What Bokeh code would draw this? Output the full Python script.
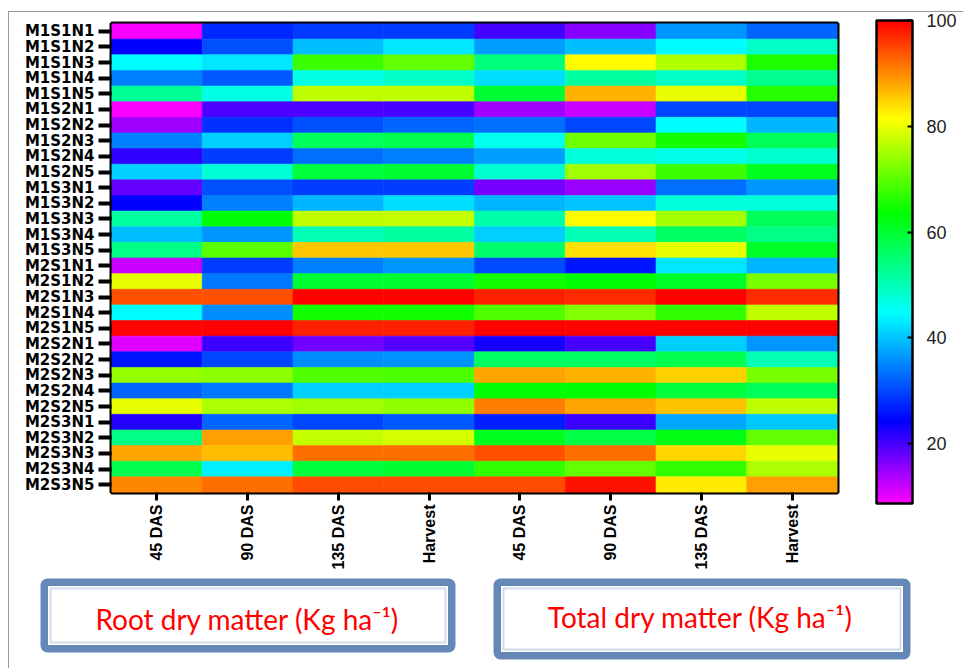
import colorsys
import numpy as np
from bokeh.plotting import figure
from bokeh.models import (ColumnDataSource, LinearColorMapper, ColorBar, FixedTicker,
                          FactorRange, Range1d, BoxAnnotation, Label)
from bokeh.embed import file_html
from bokeh.resources import INLINE

# ---------------- data ----------------
rows = ["M1S1N1", "M1S1N2", "M1S1N3", "M1S1N4", "M1S1N5",
        "M1S2N1", "M1S2N2", "M1S2N3", "M1S2N4", "M1S2N5",
        "M1S3N1", "M1S3N2", "M1S3N3", "M1S3N4", "M1S3N5",
        "M2S1N1", "M2S1N2", "M2S1N3", "M2S1N4", "M2S1N5",
        "M2S2N1", "M2S2N2", "M2S2N3", "M2S2N4", "M2S2N5",
        "M2S3N1", "M2S3N2", "M2S3N3", "M2S3N4", "M2S3N5"]
col_labels = ["45 DAS", "90 DAS", "135 DAS", "Harvest",
              "45 DAS", "90 DAS", "135 DAS", "Harvest"]

root_45 = [9, 24.3, 44.7, 34.7, 52.5, 8.7, 14.5, 34.7, 21.2, 41.1, 18.2, 24.3, 51.7, 39.5, 53.9,
           12.1, 79.7, 94.2, 44.7, 100, 10.8, 25.9, 74.1, 32.3, 79.7, 21.9, 53.9, 88, 57.7, 90.2]
root_90 = [27.5, 30.7, 42.7, 31.5, 46.6, 19.4, 28.3, 41.1, 29.1, 47.7, 30.7, 34.7, 63, 36.3, 69.9,
           29.1, 33.9, 94.2, 35.5, 100, 20.6, 29.9, 73.4, 33.9, 75.5, 32.3, 88.4, 86.2, 43.5, 92]
root_135 = [29, 39.5, 67.8, 46.6, 76.9, 19.4, 30.7, 56.9, 33.1, 59.2, 29.1, 38.7, 76.9, 50.4, 85.5,
            34.7, 59.9, 100, 65, 97.6, 17.6, 35.5, 69.2, 41.1, 74.8, 29.9, 77.5, 92, 59.2, 94.5]
root_harvest = [29, 42.7, 70.6, 48.8, 76.9, 20, 32.3, 57.7, 34.7, 59.9, 29.1, 41.9, 77.5, 51.7, 85.5,
                36.3, 59.9, 100, 65, 97.6, 19.1, 35.9, 68.9, 41.1, 73.8, 31.5, 78.3, 92, 59.9, 94.5]
total_45 = [20.4, 37.1, 54.7, 41.9, 59.9, 14.5, 33.1, 45.8, 37.1, 48, 17, 38.7, 51, 41.1, 55.5,
            30.3, 65, 97.6, 69.2, 100, 23.1, 56.2, 88, 63.6, 91, 26.7, 61.4, 94.2, 67.1, 94.4]
total_90 = [16, 39.5, 81.5, 51.7, 86.9, 12.1, 29.9, 71.3, 47.3, 74.8, 15.1, 39.9, 81.5, 50.4, 83.7,
            25.9, 63.6, 96.9, 72.7, 100, 20, 56.2, 86.9, 63.6, 88, 20.6, 58.5, 92, 70.6, 98.9]
total_135 = [36.3, 44.7, 76, 48.8, 79.7, 29.9, 44.7, 65, 46.2, 67.8, 33.1, 47.3, 75.2, 56.2, 79.7,
             42.7, 60.7, 100, 67.1, 100, 41.1, 57.7, 84.8, 59.2, 85.9, 37.9, 62.1, 84.4, 67.1, 83]
total_harvest = [32.3, 48.8, 65.7, 53.2, 66.4, 29.9, 38.7, 56.9, 48, 61.4, 36.3, 47.3, 56.9, 53.9, 60.7,
                 38.7, 72, 96.9, 76.9, 100, 36.3, 50.4, 72, 56.9, 76.9, 40.3, 70.6, 79.7, 75.5, 88.4]

colorbar_ticks = [20, 40, 60, 80, 100]
box_titles = ["Root dry matter (Kg ha\u207b\u00b9)", "Total dry matter (Kg ha\u207b\u00b9)"]

series = [root_45, root_90, root_135, root_harvest, total_45, total_90, total_135, total_harvest]

# ---------------- colour map (rainbow magenta -> red) ----------------
LOW, HIGH = 8.7, 100.0
anchor_vals = [8.7, 24.3, 44.7, 63.6, 81.5, 100.0]
anchor_hues = [300, 240, 180, 120, 60, 0]
palette = []
for i in range(256):
    v = LOW + (HIGH - LOW) * (i + 0.5) / 256
    h = float(np.interp(v, anchor_vals, anchor_hues)) / 360.0
    r, g, b = colorsys.hsv_to_rgb(h, 1, 1)
    palette.append("#%02x%02x%02x" % (int(round(r * 255)), int(round(g * 255)), int(round(b * 255))))
mapper = LinearColorMapper(palette=palette, low=LOW, high=HIGH)

xs, ys, vs = [], [], []
for j, s in enumerate(series):
    for i, r in enumerate(rows):
        xs.append(j + 0.5)
        ys.append(r)
        vs.append(s[i])
src = ColumnDataSource(dict(x=xs, y=ys, v=vs))

# ---------------- heatmap figure ----------------
FRAME_L, FRAME_R = 111, 837   # absolute page pixels of the heatmap frame
p = figure(width=955, height=560, output_backend="svg", toolbar_location=None,
           x_range=Range1d(0, 8), y_range=FactorRange(factors=rows[::-1], range_padding=0),
           min_border_left=FRAME_L - 9, min_border_right=955 - (FRAME_R - 9),
           min_border_top=11, min_border_bottom=20)
p.styles = {"margin-left": "8px", "margin-top": "11px",
            "border-left": "1px solid #9a9a9a", "border-top": "1px solid #9a9a9a"}
p.rect(x="x", y="y", width=1, height=1, source=src,
       fill_color={"field": "v", "transform": mapper},
       line_color={"field": "v", "transform": mapper}, line_width=0.6)

p.xgrid.visible = False
p.ygrid.visible = False
p.outline_line_color = "black"
p.outline_line_width = 4
p.outline_line_alpha = 1

xa = p.xaxis[0]
xa.ticker = FixedTicker(ticks=[j + 0.5 for j in range(8)])
xa.major_label_overrides = {j + 0.5: lab for j, lab in enumerate(col_labels)}
xa.major_label_orientation = np.pi / 2
xa.axis_line_color = None
xa.minor_tick_line_color = None
xa.major_tick_line_width = 3
xa.major_tick_line_color = "black"
xa.major_tick_out = 8
xa.major_tick_in = 0
xa.major_label_standoff = 4
xa.major_label_text_font = "'Liberation Sans Narrow', 'Arial Narrow', 'Liberation Sans', sans-serif"
xa.major_label_text_font_style = "bold"
xa.major_label_text_font_size = "16px"
xa.major_label_text_color = "black"

ya = p.yaxis[0]
ya.axis_line_color = None
ya.major_tick_line_width = 4
ya.major_tick_line_color = "black"
ya.major_tick_out = 13
ya.major_tick_in = 0
ya.major_label_standoff = 4
ya.major_label_text_font = "DejaVu Sans"
ya.major_label_text_font_style = "bold"
ya.major_label_text_font_size = "15px"
ya.major_label_text_color = "black"

cb = ColorBar(color_mapper=mapper, ticker=FixedTicker(ticks=colorbar_ticks),
              width=36, height=483, padding=0, margin=0, location=(39, -11),
              bar_line_color="black", bar_line_width=2.5,
              major_tick_line_color="black", major_tick_line_width=2,
              major_tick_in=5, major_tick_out=0, minor_tick_line_color=None,
              label_standoff=14, major_label_text_font="Liberation Sans",
              major_label_text_font_size="18px", major_label_text_color="#222222",
              background_fill_alpha=0, border_line_color=None)
p.add_layout(cb, "right")

# ---------------- label boxes (separate root, page pixel coordinates) ----------------
q = figure(width=955, height=97, output_backend="svg", toolbar_location=None,
           x_range=Range1d(9, 964), y_range=Range1d(669, 572),
           min_border=0, min_border_left=0, min_border_right=0,
           min_border_top=0, min_border_bottom=0)
q.styles = {"margin-left": "8px", "border-left": "1px solid #9a9a9a"}
q.axis.visible = False
q.grid.visible = False
q.outline_line_color = None

blue = "#6688b8"
boxes = [(40, 455, 579, 653), (493, 910, 579, 660)]
centers = [(247, 619), (700, 617)]
for (l, r, t, b), (cx, cy), title in zip(boxes, centers, box_titles):
    q.add_layout(BoxAnnotation(left=l, right=r, top=t, bottom=b, fill_color=blue, fill_alpha=1,
                               line_color=None, border_radius=7))
    q.add_layout(BoxAnnotation(left=l + 7.5, right=r - 7.5, top=t + 7.5, bottom=b - 7.5,
                               fill_color="white", fill_alpha=1, line_color=None))
    q.add_layout(BoxAnnotation(left=l + 10, right=r - 10, top=t + 10, bottom=b - 10,
                               fill_color="white", fill_alpha=1, line_color=blue, line_width=2))
    q.add_layout(Label(x=cx, y=cy, text=title, text_align="center", text_baseline="middle",
                       text_color="#ff0000", text_font="Lato", text_font_size="28px"))

open("out.html", "w").write(file_html([p, q], INLINE))
